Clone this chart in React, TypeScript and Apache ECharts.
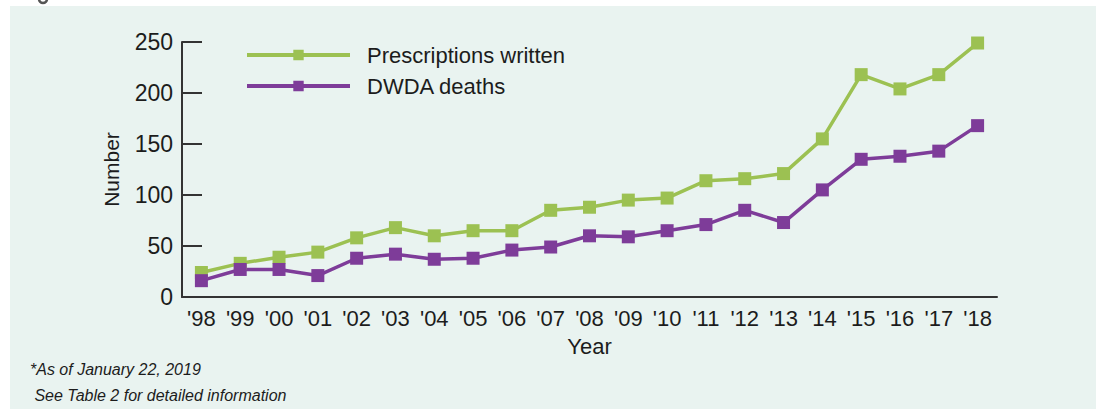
import React, { useEffect, useRef } from "react";
import * as echarts from "echarts";

const years = ["'98", "'99", "'00", "'01", "'02", "'03", "'04", "'05", "'06", "'07", "'08", "'09", "'10", "'11", "'12", "'13", "'14", "'15", "'16", "'17", "'18"];
const prescriptions = [24, 33, 39, 44, 58, 68, 60, 65, 65, 85, 88, 95, 97, 114, 116, 121, 155, 218, 204, 218, 249];
const deaths = [16, 27, 27, 21, 38, 42, 37, 38, 46, 49, 60, 59, 65, 71, 85, 73, 105, 135, 138, 143, 168];
const footnotes = ["*As of January 22, 2019", " See Table 2 for detailed information"];

const GREEN = "#9cc152";
const PURPLE = "#7e3c99";
const INK = "#1c1c1c";
const FONT = "'Liberation Sans', Arial, sans-serif";

export default function App() {
  const ref = useRef<HTMLDivElement>(null);
  useEffect(() => {
    const chart = echarts.init(ref.current!, null, { renderer: "svg" });
    chart.setOption({
      animation: false,
      backgroundColor: "#ffffff",
      textStyle: { fontFamily: FONT },
      graphic: [
        { type: "rect", left: 10, top: 6, shape: { width: 1086, height: 403 }, style: { fill: "#e9f3f0" }, z: -10 },
        { type: "arc", shape: { cx: 43, cy: -1, r: 4, startAngle: 0, endAngle: Math.PI }, style: { stroke: "#555", lineWidth: 2.5, fill: "none" } },
        { type: "text", left: 30, top: 361, style: { text: footnotes[0], fontSize: 16, fontStyle: "italic", fill: INK, fontFamily: FONT } },
        { type: "text", left: 30, top: 387, style: { text: footnotes[1], fontSize: 16, fontStyle: "italic", fill: INK, fontFamily: FONT } },
      ],
      legend: {
        left: 240,
        top: 39,
        orient: "vertical",
        itemWidth: 103,
        itemHeight: 13,
        itemGap: 9,
        lineStyle: { width: 4 },
        textStyle: { fontSize: 22, color: INK, fontFamily: FONT, padding: [0, 0, 0, 12] },
        data: ["Prescriptions written", "DWDA deaths"],
      },
      grid: { left: 182, right: 99, top: 42, bottom: 112 },
      xAxis: {
        type: "category",
        data: years,
        boundaryGap: true,
        name: "Year",
        nameLocation: "middle",
        nameGap: 38,
        nameTextStyle: { fontSize: 22, color: INK, fontFamily: FONT },
        axisLine: { lineStyle: { color: "#333", width: 2 } },
        axisTick: { inside: true, length: 6, lineStyle: { color: "#333", width: 2 } },
        axisLabel: { interval: 0, fontSize: 22, color: INK, margin: 10, fontFamily: FONT },
      },
      yAxis: {
        type: "value",
        min: 0,
        max: 250,
        interval: 50,
        name: "Number",
        nameLocation: "middle",
        nameGap: 60,
        nameTextStyle: { fontSize: 21, color: INK, fontFamily: FONT },
        splitLine: { show: false },
        axisLine: { show: true, lineStyle: { color: "#333", width: 2 } },
        axisTick: { show: true, inside: true, length: 20, lineStyle: { color: "#333", width: 2 } },
        axisLabel: { fontSize: 23, color: INK, margin: 9, fontFamily: FONT },
      },
      series: [
        {
          name: "Prescriptions written",
          type: "line",
          data: prescriptions,
          symbol: "rect",
          symbolSize: 13,
          itemStyle: { color: GREEN },
          lineStyle: { color: GREEN, width: 3.5 },
        },
        {
          name: "DWDA deaths",
          type: "line",
          data: deaths,
          symbol: "rect",
          symbolSize: 13,
          itemStyle: { color: PURPLE },
          lineStyle: { color: PURPLE, width: 3.5 },
        },
      ],
    });
    return () => chart.dispose();
  }, []);
  return <div ref={ref} style={{ position: "fixed", left: 0, top: 0, width: 1096, height: 409 }} />;
}
